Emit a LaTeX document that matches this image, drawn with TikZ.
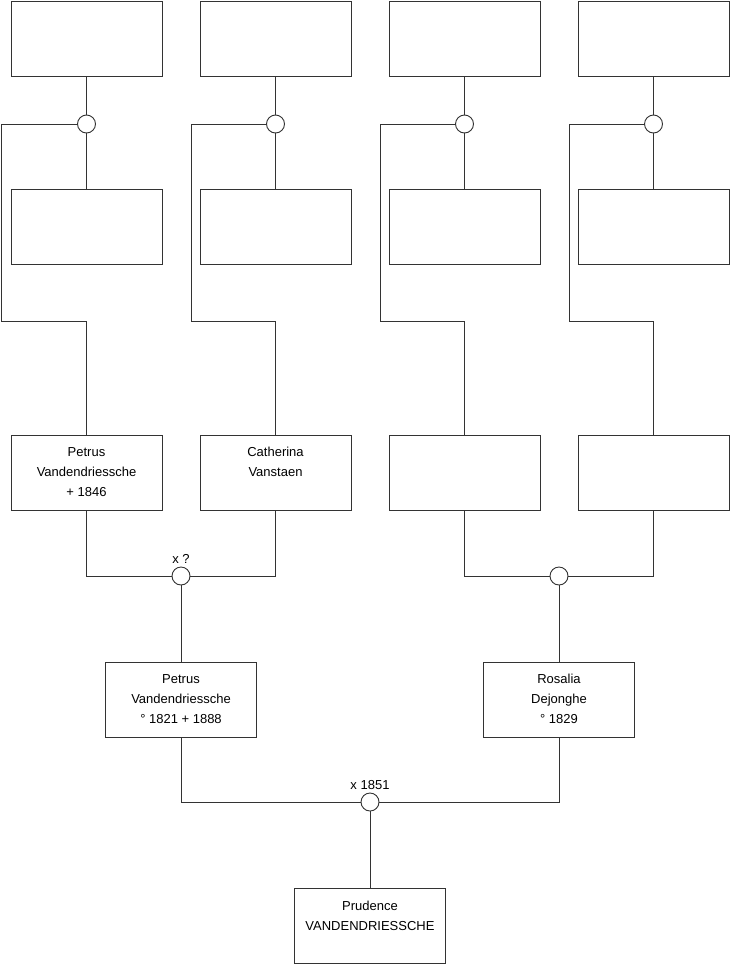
\documentclass[tikz,border=0pt]{standalone}
\usepackage{fontspec}
\setmainfont{Liberation Sans}
\usetikzlibrary{positioning,calc}
\definecolor{edge}{HTML}{333333}

\begin{document}
\begin{tikzpicture}[x=1pt, y=-1pt,
  person/.style={draw=edge, line width=0.9pt, rectangle, minimum width=151pt,
                 minimum height=75pt, inner sep=0pt},
  who/.style={label={[anchor=north, yshift=-9pt, align=center,
                font=\fontsize{13}{20}\selectfont]north:#1}},
  union/.style={draw=edge, line width=0.9pt, circle, minimum size=18pt,
                inner sep=0pt, fill=white},
  date/.style={label={[font=\fontsize{13}{15}\selectfont, inner sep=1pt, yshift=2pt]above:#1}},
  link/.style={draw=edge, line width=0.9pt}]

\useasboundingbox (0,0) rectangle (740,975);

% great-grandparents
\node[person] (gg1) at (86.5,38.5) {};
\node[person] (gg2) at (275.5,38.5) {};
\node[person] (gg3) at (464.5,38.5) {};
\node[person] (gg4) at (653.5,38.5) {};
\node[person] (gm1) at (86.5,227) {};
\node[person] (gm2) at (275.5,227) {};
\node[person] (gm3) at (464.5,227) {};
\node[person] (gm4) at (653.5,227) {};

\node[union] (u1) at (86.5,124) {};
\node[union] (u2) at (275.5,124) {};
\node[union] (u3) at (464.5,124) {};
\node[union] (u4) at (653.5,124) {};

% grandparents
\node[person, who={Petrus\\Vandendriessche\\+ 1846}] (g1) at (86.5,472.5) {};
\node[person, who={Catherina\\Vanstaen}] (g2) at (275.5,472.5) {};
\node[person] (g3) at (464.5,472.5) {};
\node[person] (g4) at (653.5,472.5) {};

\node[union, date={x ?}] (uA) at (181,576) {};
\node[union] (uB) at (559,576) {};

% parents
\node[person, who={Petrus\\Vandendriessche\\° 1821 + 1888}] (father) at (181,699.5) {};
\node[person, who={Rosalia\\Dejonghe\\° 1829}] (mother) at (559,699.5) {};

\node[union, date={x 1851}] (uC) at (370,802) {};

\node[person, who={Prudence\\VANDENDRIESSCHE}] (child) at (370,926) {};

\coordinate (k1) at (1,321);
\coordinate (k2) at (191,321);
\coordinate (k3) at (380,321);
\coordinate (k4) at (569,321);

\foreach \i in {1,2,3,4}{
  \draw[link] (gg\i) -- (u\i);
  \draw[link] (u\i) -- (gm\i);
  \draw[link] (u\i) -| (k\i) -| (g\i);
}

\draw[link] (g1) |- (uA);
\draw[link] (g2) |- (uA);
\draw[link] (g3) |- (uB);
\draw[link] (g4) |- (uB);
\draw[link] (uA) -- (father);
\draw[link] (uB) -- (mother);
\draw[link] (father) |- (uC);
\draw[link] (mother) |- (uC);
\draw[link] (uC) -- (child);
\end{tikzpicture}
\end{document}
